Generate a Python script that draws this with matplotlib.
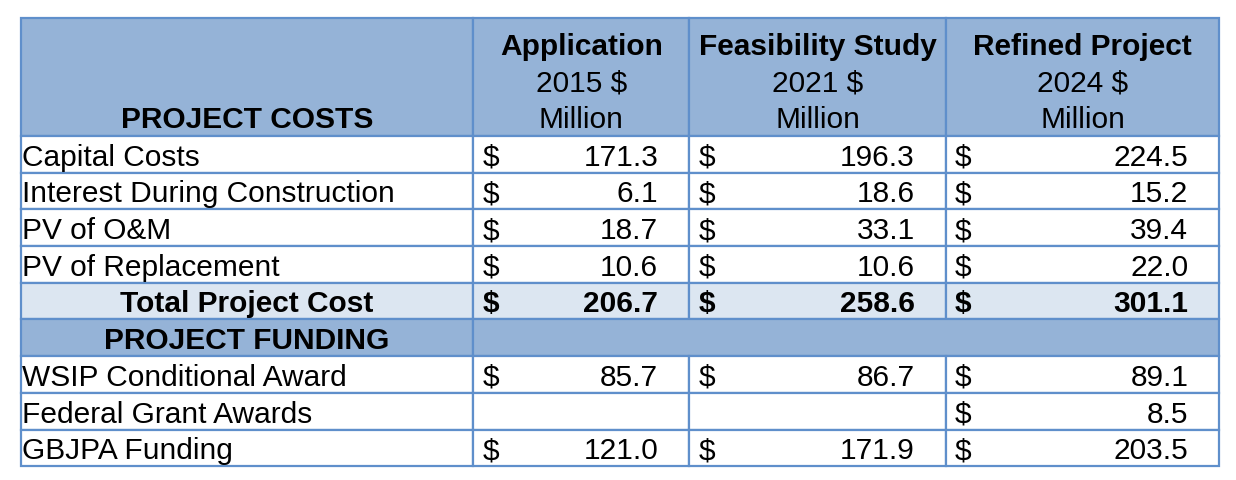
import matplotlib.pyplot as plt
from matplotlib.patches import Rectangle

# data
col_titles = ["Application", "Feasibility Study", "Refined Project"]
col_years = ["2015 $", "2021 $", "2024 $"]
cost_labels = ["Capital Costs", "Interest During Construction", "PV of O&M", "PV of Replacement"]
cost_application = [171.3, 6.1, 18.7, 10.6]
cost_feasibility = [196.3, 18.6, 33.1, 10.6]
cost_refined = [224.5, 15.2, 39.4, 22.0]
total_costs = [206.7, 258.6, 301.1]
funding_labels = ["WSIP Conditional Award", "Federal Grant Awards", "GBJPA Funding"]
fund_application = [85.7, None, 121.0]
fund_feasibility = [86.7, None, 171.9]
fund_refined = [89.1, 8.5, 203.5]

plt.rcParams['font.family'] = ['Liberation Sans', 'DejaVu Sans']

# layout (pixels)
W, H = 1236, 480
col_x = [20.5, 473.3, 689.3, 945.7, 1219.3]
head_top, head_bot = 17.5, 136.0
row_h = 36.7
fs = 21.5
hdr_blue = '#95B3D7'
tot_blue = '#DCE6F1'
line_c = '#5F8FCB'

fig = plt.figure(figsize=(W / 100, H / 100), dpi=100)
ax = fig.add_axes([0, 0, 1, 1])
ax.set_xlim(0, W)
ax.set_ylim(H, 0)
ax.axis('off')


def box(x0, x1, y0, y1, fc='white'):
    ax.add_patch(Rectangle((x0, y0), x1 - x0, y1 - y0, facecolor=fc,
                           edgecolor=line_c, linewidth=1.6))


# header
box(col_x[0], col_x[1], head_top, head_bot, hdr_blue)
ax.text((col_x[0] + col_x[1]) / 2, head_bot - 7.5, "PROJECT COSTS", ha='center',
        va='baseline', fontsize=fs, fontweight='bold')
for i in range(3):
    box(col_x[i + 1], col_x[i + 2], head_top, head_bot, hdr_blue)
    cx = (col_x[i + 1] + col_x[i + 2]) / 2
    ax.text(cx, head_bot - 7.5 - 2 * row_h, col_titles[i], ha='center', va='baseline',
            fontsize=fs, fontweight='bold')
    ax.text(cx, head_bot - 7.5 - row_h, col_years[i], ha='center', va='baseline', fontsize=fs)
    ax.text(cx, head_bot - 7.5, "Million", ha='center', va='baseline', fontsize=fs)


def data_row(y0, label, vals, fc='white', bold=False, center_label=False):
    y1 = y0 + row_h
    box(col_x[0], col_x[1], y0, y1, fc)
    fw = 'bold' if bold else 'normal'
    if center_label:
        ax.text((col_x[0] + col_x[1]) / 2, y1 - 7, label, ha='center', va='baseline',
                fontsize=fs, fontweight=fw)
    else:
        ax.text(col_x[0] + 1.5, y1 - 7, label, ha='left', va='baseline', fontsize=fs, fontweight=fw)
    for i, v in enumerate(vals):
        box(col_x[i + 1], col_x[i + 2], y0, y1, fc)
        if v is None:
            continue
        ax.text(col_x[i + 1] + 9, y1 - 7, "$", ha='left', va='baseline', fontsize=fs, fontweight=fw)
        ax.text(col_x[i + 2] - 31, y1 - 7, f"{v:.1f}", ha='right', va='baseline',
                fontsize=fs, fontweight=fw)


y = head_bot
for k, lab in enumerate(cost_labels):
    data_row(y, lab, [cost_application[k], cost_feasibility[k], cost_refined[k]])
    y += row_h
data_row(y, "Total Project Cost", total_costs, fc=tot_blue, bold=True, center_label=True)
y += row_h

# funding header row
box(col_x[0], col_x[1], y, y + row_h, hdr_blue)
box(col_x[1], col_x[4], y, y + row_h, hdr_blue)
ax.text((col_x[0] + col_x[1]) / 2, y + row_h - 7, "PROJECT FUNDING", ha='center',
        va='baseline', fontsize=fs, fontweight='bold')
y += row_h

for k, lab in enumerate(funding_labels):
    data_row(y, lab, [fund_application[k], fund_feasibility[k], fund_refined[k]])
    y += row_h

fig.savefig("out.png", dpi=100)
